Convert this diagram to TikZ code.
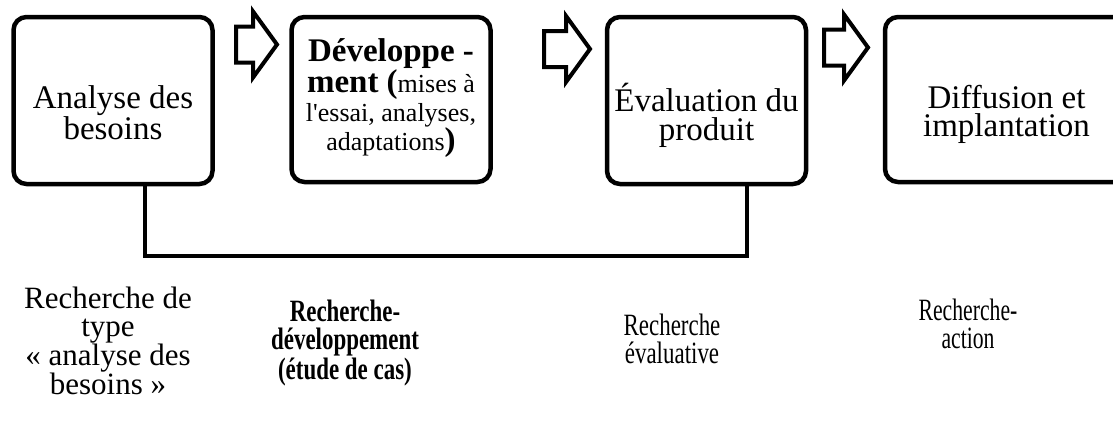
\documentclass[tikz,border=0pt]{standalone}
\usepackage{fontspec}
\setmainfont[Ligatures=TeXOff]{Liberation Serif}
\newfontfamily\condfont[FakeStretch=0.74]{Liberation Serif}
\newfontfamily\condfontx[FakeStretch=0.70]{Liberation Serif}
\usetikzlibrary{shapes.arrows,calc}
\begin{document}
\begin{tikzpicture}[x=1pt,y=-1pt,
  box/.style={draw, line width=4.5pt, rounded corners=13pt, minimum width=199pt, minimum height=167pt, inner sep=0pt},
  blockarrow/.style={single arrow, draw, line width=4pt, fill=white, anchor=tail,
    inner xsep=0pt, inner ysep=16pt, minimum width=0pt, single arrow head extend=15pt,
    single arrow tip angle=108},
  conn/.style={line width=3.5pt},
  big/.style={font=\fontsize{33}{28.5}\selectfont, align=center, inner sep=0pt},
  lbl/.style={font=\fontsize{31}{28}\selectfont, align=center, inner sep=0pt}]
\clip (0,0) rectangle (1113,431);
% boxes
\node[box] (b1) at (113,100.5) {};
\node[box, minimum height=165pt] (b2) at (391,99.5) {};
\node[box] (b3) at (706.5,100.5) {};
\node[box, minimum height=165pt, minimum width=243pt] (b4) at (1006.5,99.5) {};
% box texts
\node[big] (t1) at ($(b1)+(0,12)$) {Analyse des\\besoins};
\node[big] (t2) at ($(b2)+(0,-1)$) {{\fontsize{33}{29}\selectfont\bfseries Développe -}\\{\fontsize{33}{29}\selectfont\bfseries ment (}{\fontsize{26}{29}\selectfont mises à}\\{\fontsize{26}{29}\selectfont l'essai, analyses,}\\{\fontsize{26}{29}\selectfont adaptations}{\fontsize{33}{29}\selectfont\bfseries )}};
\node[big] (t3) at ($(b3)+(0,15)$) {Évaluation du\\produit};
\node[big] (t4) at ($(b4)+(0,15)$) {Diffusion et\\implantation};
% block arrows
\node[blockarrow, minimum height=41pt] (a1) at (234,44.5) {};
\node[blockarrow, minimum height=46pt] (a2) at (542,49) {};
\node[blockarrow, minimum height=44pt] (a3) at (822,47.5) {};
% connector
\coordinate (c1) at (145,256);
\coordinate (c2) at (747,256);
\draw[conn] (b1.south -| c1) -- (c1) -- (c2) -- (b3.south -| c2);
% bottom labels
\node[lbl] (r1) at (108,341) {Recherche de\\type\\« analyse des\\besoins »};
\node[lbl, font=\fontsize{31}{28}\condfont\bfseries] (r2) at (345,343) {Recherche-\\développement\\(étude de cas)};
\node[lbl, font=\fontsize{31}{28}\condfont] (r3) at (672,339) {Recherche\\évaluative};
\node[lbl, font=\fontsize{31}{28}\condfontx] (r4) at (968,324) {Recherche-\\action};
\end{tikzpicture}
\end{document}
